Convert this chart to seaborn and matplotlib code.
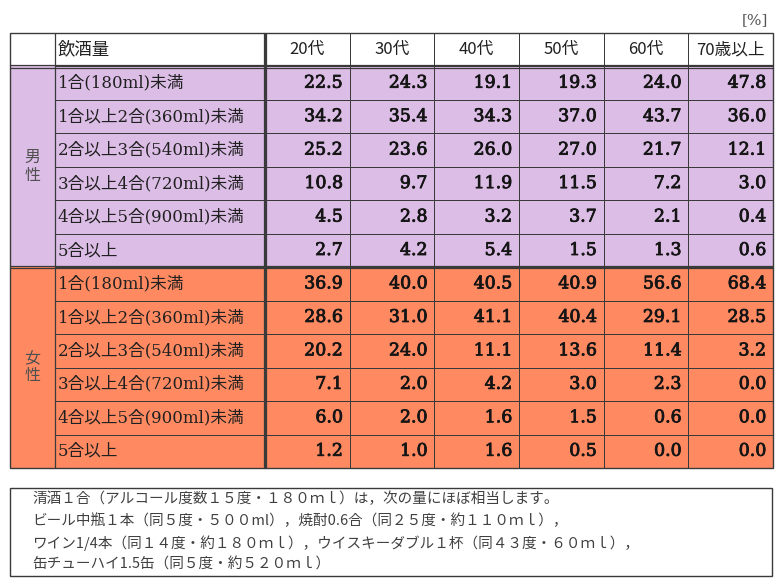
import numpy as np
import pandas as pd
import matplotlib
matplotlib.use("Agg")
import matplotlib.pyplot as plt
import matplotlib.patheffects as pe
from matplotlib.colors import ListedColormap
import seaborn as sns

sns.set_theme(style="white")
plt.rcParams['font.family'] = ['Noto Sans CJK JP', 'DejaVu Sans']

# ---------------- data ----------------
ages = ['20代', '30代', '40代', '50代', '60代', '70歳以上']
amounts = ['1合(180ml)未満', '1合以上2合(360ml)未満', '2合以上3合(540ml)未満',
           '3合以上4合(720ml)未満', '4合以上5合(900ml)未満', '5合以上']
sexes = ['男性', '女性']
male = [[22.5, 24.3, 19.1, 19.3, 24.0, 47.8],
        [34.2, 35.4, 34.3, 37.0, 43.7, 36.0],
        [25.2, 23.6, 26.0, 27.0, 21.7, 12.1],
        [10.8, 9.7, 11.9, 11.5, 7.2, 3.0],
        [4.5, 2.8, 3.2, 3.7, 2.1, 0.4],
        [2.7, 4.2, 5.4, 1.5, 1.3, 0.6]]
female = [[36.9, 40.0, 40.5, 40.9, 56.6, 68.4],
          [28.6, 31.0, 41.1, 40.4, 29.1, 28.5],
          [20.2, 24.0, 11.1, 13.6, 11.4, 3.2],
          [7.1, 2.0, 4.2, 3.0, 2.3, 0.0],
          [6.0, 2.0, 1.6, 1.5, 0.6, 0.0],
          [1.2, 1.0, 1.6, 0.5, 0.0, 0.0]]
header_label = '飲酒量'
unit_label = '[%]'
note_lines = ['清酒１合（アルコール度数１５度・１８０ｍｌ）は，次の量にほぼ相当します。',
              'ビール中瓶１本（同５度・５００ml），焼酎0.6合（同２５度・約１１０ｍｌ），',
              'ワイン1/4本（同１４度・約１８０ｍｌ），ウイスキーダブル１杯（同４３度・６０ｍｌ），',
              '缶チューハイ1.5缶（同５度・約５２０ｍｌ）']

# ---------------- styling ----------------
W, H = 780, 587
PURPLE = '#DCBDE6'
ORANGE = '#FF8A62'
LINE = '#3a3a3a'
cmap = ListedColormap(['white', PURPLE, ORANGE])

n_rows = 1 + 2 * len(amounts)
codes_col = np.array([0] + [1] * len(amounts) + [2] * len(amounts)).reshape(-1, 1)
values = np.array(male + female)

# table geometry (pixels)
T_TOP, T_BOT = 33, 468
X_SEX, X_LAB, X_VAL, X_END = 10, 55, 265, 773

fig = plt.figure(figsize=(W / 100, H / 100), dpi=100)


def add_ax(x0, x1, y0, y1):
    return fig.add_axes([x0 / W, 1 - y1 / H, (x1 - x0) / W, (y1 - y0) / H])


# sex column
ax_sex = add_ax(X_SEX, X_LAB, T_TOP, T_BOT)
sns.heatmap(pd.DataFrame(codes_col), ax=ax_sex, cmap=cmap, vmin=-0.5, vmax=2.5,
            cbar=False, linewidths=0, xticklabels=False, yticklabels=False)
for i, s in enumerate(sexes):
    mid = 1 + i * len(amounts) + len(amounts) / 2
    ax_sex.text(0.5, mid - 0.27, s[0], ha='center', va='center', fontsize=11.5, color='#505050')
    ax_sex.text(0.5, mid + 0.25, s[1], ha='center', va='center', fontsize=11.5, color='#505050')

# label column
ax_lab = add_ax(X_LAB, X_VAL, T_TOP, T_BOT)
sns.heatmap(pd.DataFrame(codes_col), ax=ax_lab, cmap=cmap, vmin=-0.5, vmax=2.5,
            cbar=False, linewidths=0.6, linecolor=LINE, xticklabels=False, yticklabels=False)
lab_font = ['DejaVu Serif', 'Noto Sans CJK JP']
ax_lab.text(0.012, 0.5, header_label, ha='left', va='center', fontsize=12.5, color='#202020')
for i, lab in enumerate(amounts + amounts):
    ax_lab.text(0.012, i + 1.5, lab, ha='left', va='center', fontsize=12, color='#202020',
                family=lab_font)

# value columns
codes_val = np.repeat(codes_col, len(ages), axis=1)
ax_val = add_ax(X_VAL, X_END, T_TOP, T_BOT)
sns.heatmap(pd.DataFrame(codes_val), ax=ax_val, cmap=cmap, vmin=-0.5, vmax=2.5,
            cbar=False, linewidths=0.6, linecolor=LINE, xticklabels=False, yticklabels=False)
for j, a in enumerate(ages):
    ax_val.text(j + 0.5, 0.5, a, ha='center', va='center', fontsize=12, color='#202020')
thick = [pe.withStroke(linewidth=0.6, foreground='#151515')]
for i in range(values.shape[0]):
    for j in range(values.shape[1]):
        ax_val.text(j + 1 - 0.08, i + 1.5, f'{values[i, j]:.1f}', ha='right', va='center',
                    fontsize=12.5, family='DejaVu Serif', color='#151515',
                    path_effects=thick)

# overlay for borders, double rules and note
ov = fig.add_axes([0, 0, 1, 1], zorder=10)
ov.set_xlim(0, W)
ov.set_ylim(H, 0)
ov.axis('off')
ov.patch.set_alpha(0)
row_h = (T_BOT - T_TOP) / n_rows
ov.add_patch(plt.Rectangle((X_SEX, T_TOP), X_END - X_SEX, T_BOT - T_TOP, fill=False,
                           ec=LINE, lw=1.0))
for r in [1, 1 + len(amounts)]:
    y = T_TOP + r * row_h
    ov.plot([X_SEX, X_END], [y - 1.2, y - 1.2], color=LINE, lw=0.9)
    ov.plot([X_SEX, X_END], [y + 1.2, y + 1.2], color=LINE, lw=0.9)
ov.plot([X_VAL - 1.2, X_VAL - 1.2], [T_TOP, T_BOT], color=LINE, lw=0.9)
ov.plot([X_VAL + 1.2, X_VAL + 1.2], [T_TOP, T_BOT], color=LINE, lw=0.9)
ov.plot([X_LAB, X_LAB], [T_TOP, T_BOT], color=LINE, lw=0.9)

ov.text(768, 20, unit_label, ha='right', va='center', fontsize=11, color='#555555',
        family='DejaVu Serif')

ov.add_patch(plt.Rectangle((10, 488), 762, 88, fill=False, ec=LINE, lw=1.0))
for k, line in enumerate(note_lines):
    ov.text(32, 499 + k * 22, line, ha='left', va='center', fontsize=10.5, color='#404040')

fig.savefig('out.png', dpi=100)
